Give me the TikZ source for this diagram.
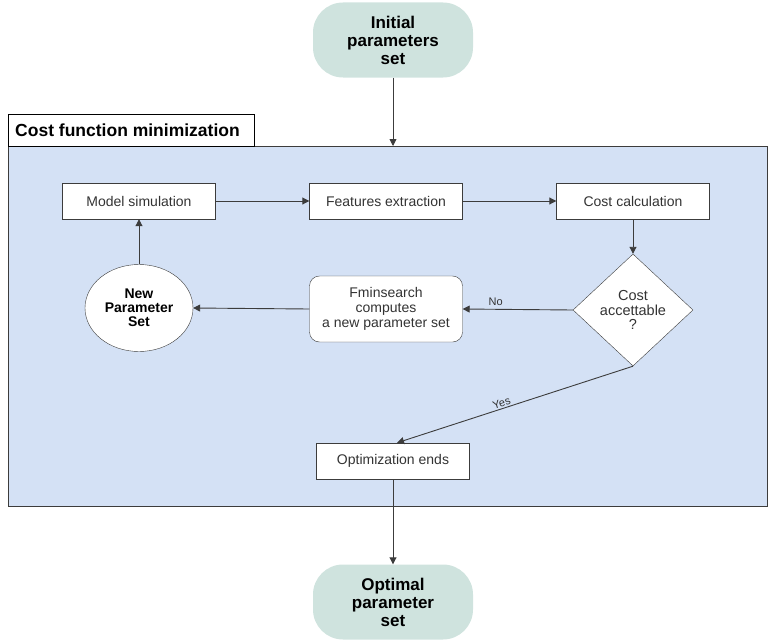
\documentclass[tikz,border=0pt]{standalone}
\usepackage{fontspec}
\setmainfont{Liberation Sans}
\usetikzlibrary{shapes.geometric,arrows.meta}
\definecolor{termfill}{RGB}{207,227,222}
\definecolor{areafill}{RGB}{212,225,245}
\definecolor{txt}{RGB}{51,51,51}
\definecolor{edge}{RGB}{60,60,60}
\tikzset{
  terminal/.style={fill=termfill, rounded corners=30pt, minimum width=160pt, minimum height=75pt, align=center, font=\fontsize{17}{18}\selectfont\bfseries, text=black, inner sep=0pt},
  procbox/.style={draw=edge, fill=white, minimum width=153pt, minimum height=36pt, font=\fontsize{14}{15}\selectfont, text=txt, inner sep=0pt},
  roundbox/.style={procbox, rounded corners=10pt, minimum height=66pt, align=center},
  ellnode/.style={draw=edge, fill=white, ellipse, minimum width=108pt, minimum height=87pt, inner sep=0pt, align=center, font=\fontsize{14}{14}\selectfont\bfseries},
  decision/.style={draw=edge, fill=white, diamond, minimum width=120pt, minimum height=112pt, inner sep=0pt, align=center, font=\fontsize{14.5}{14.5}\selectfont, text=txt},
  conn/.style={draw=edge, line width=0.9pt, -{Triangle[length=7pt,width=7pt]}},
  lbl/.style={font=\fontsize{11}{12}\selectfont, text=txt}
}
\begin{document}
\begin{tikzpicture}[x=1pt,y=-1pt]
\useasboundingbox (0,0) rectangle (768,642);
% container
\fill[areafill] (8,146) rectangle (767,506);
\draw[edge, line width=0.9pt] (8,146) rectangle (767,506);
\node[draw=black, fill=white, line width=0.9pt, minimum width=246pt, minimum height=32pt, anchor=north west, inner sep=0pt] (title) at (8,114) {};
\node[anchor=west, font=\fontsize{17.5}{18}\selectfont\bfseries, inner sep=0pt] (titletext) at (15,130) {Cost function minimization};
\coordinate (ctop) at (393,146);

\node[terminal] (init) at (393,40) {Initial\\parameters\\set};
\node[terminal] (opt) at (393,602) {Optimal\\parameter\\set};

\node[procbox] (ms) at (139,201) {Model simulation};
\node[procbox] (fe) at (386,201) {Features extraction};
\node[procbox] (cc) at (633,201) {Cost calculation};
\node[decision] (dec) at (633,310) {Cost\\accettable\\?};
\node[roundbox] (fmin) at (386,309) {Fminsearch\\computes\\a new parameter set};
\node[ellnode] (nps) at (139,308) {New\\Parameter\\Set};
\node[procbox] (oe) at (393,461) {Optimization ends};

\draw[conn] (init.south) -- (ctop);
\draw[conn] (ms) -- (fe);
\draw[conn] (fe) -- (cc);
\draw[conn] (cc) -- (dec.north);
\draw[conn] (dec.west) -- node[lbl, above, pos=0.7] {No} (fmin.east);
\draw[conn] (fmin.west) -- (nps.east);
\draw[conn] (nps.north) -- (ms.south);
\draw[conn] (dec.south) -- node[lbl, above, sloped, pos=0.55, inner sep=1pt] {Yes} ([xshift=4pt]oe.north);
\draw[conn] (oe.south) -- (opt.north);
\end{tikzpicture}
\end{document}
